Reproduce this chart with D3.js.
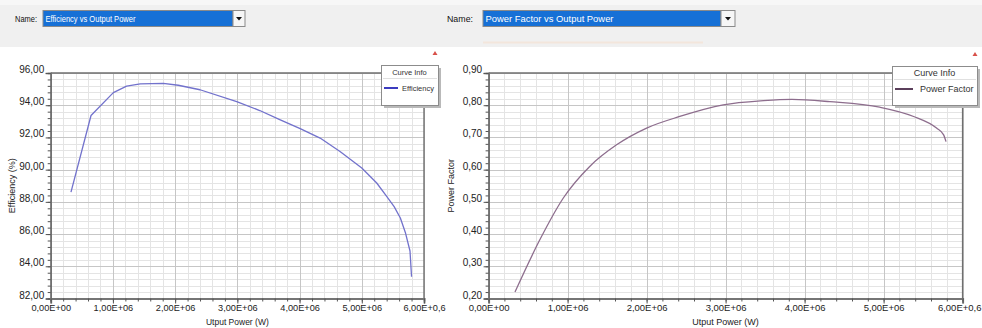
<!DOCTYPE html>
<html><head><meta charset="utf-8">
<script src="https://cdn.jsdelivr.net/npm/d3@7"></script>
<style>
html,body{margin:0;padding:0;background:#fff;overflow:hidden}
svg{display:block;font-family:"Liberation Sans",Arial,sans-serif}
</style></head><body>
<svg id="c" width="982" height="328"></svg>
<script>
// ---- data ----
const xTickValues = [0, 1e6, 2e6, 3e6, 4e6, 5e6, 6e6];
const xTickLabels = ["0,00E+00","1,00E+06","2,00E+06","3,00E+06","4,00E+06","5,00E+06","6,00E+0,6"];
const effTickValues = [82, 84, 86, 88, 90, 92, 94, 96];
const effTickLabels = ["82,00","84,00","86,00","88,00","90,00","92,00","94,00","96,00"];
const pfTickValues = [0.2, 0.3, 0.4, 0.5, 0.6, 0.7, 0.8, 0.9];
const pfTickLabels = ["0,20","0,30","0,40","0,50","0,60","0,70","0,80","0,90"];
const effPower = [0.326e6,0.648e6,1.007e6,1.22e6,1.44e6,1.81e6,2.05e6,2.4e6,2.99e6,3.36e6,3.69e6,4.01e6,4.33e6,4.65e6,5.0e6,5.24e6,5.40e6,5.52e6,5.62e6,5.70e6,5.775e6,5.80e6];
const effValues = [88.6,93.36,94.78,95.18,95.32,95.36,95.24,94.96,94.22,93.67,93.09,92.55,91.96,91.13,90.1,89.17,88.34,87.7,87.0,86.1,84.95,83.35];
const pfPower = [0.334e6,0.65e6,0.946e6,1.28e6,1.62e6,2.0e6,2.42e6,2.97e6,3.48e6,3.84e6,4.32e6,4.95e6,5.38e6,5.67e6,5.76e6,5.79e6];
const pfValues = [0.220,0.383,0.512,0.610,0.677,0.729,0.765,0.801,0.814,0.818,0.811,0.794,0.765,0.729,0.708,0.687];

const svg = d3.select("#c");
// header band
svg.append("rect").attr("x",0).attr("y",0).attr("width",982).attr("height",47).attr("fill","#f0f0f0");
svg.append("rect").attr("x",0).attr("y",0).attr("width",982).attr("height",5).attr("fill","#f7f7f7");

function header(o){
  svg.append("text").attr("x",o.nameX).attr("y",21.5).attr("font-size",9).attr("fill","#111")
    .attr("textLength",o.nameW).attr("lengthAdjust","spacingAndGlyphs").text("Name:");
  svg.append("rect").attr("x",o.boxX).attr("y",10.5).attr("width",o.boxW).attr("height",16)
    .attr("fill","#1670d6").attr("stroke","#8a8a8a").attr("stroke-width",1);
  svg.append("text").attr("x",o.boxX+2.5).attr("y",21.5).attr("font-size",9).attr("fill","#fff")
    .attr("textLength",o.titleW).attr("lengthAdjust","spacingAndGlyphs").text(o.title);
  const bx=o.boxX+o.boxW;
  svg.append("rect").attr("x",bx).attr("y",10.5).attr("width",o.btnW).attr("height",16)
    .attr("fill","#f6f6f6").attr("stroke","#8a8a8a");
  const cx=bx+o.btnW/2;
  svg.append("path").attr("d",`M${cx-3},17 L${cx+3},17 L${cx},20.5 Z`).attr("fill","#111");
  if(o.pale){
    svg.append("line").attr("x1",o.boxX).attr("x2",o.boxX+220).attr("y1",42.5).attr("y2",42.5)
      .attr("stroke","#f3e6dc").attr("stroke-width",2);
  }
}
header({nameX:15,nameW:22,boxX:43,boxW:190,btnW:12,titleW:90,title:"Efficiency vs Output Power"});
header({nameX:447,nameW:26,boxX:483,boxW:238,btnW:14,titleW:128,title:"Power Factor vs Output Power",pale:true});

function panel(o){
  const g = svg.append("g");
  const x = d3.scaleLinear().domain([0,6e6]).range([o.x0,o.x1]);
  const y = d3.scaleLinear().domain(o.yDomain).range([o.yb,o.yt]);
  const xMinor = d3.range(0,6e6+1,0.2e6);
  const yMinor = d3.range(0,36).map(i=>o.yDomain[0]+i*o.yMinorStep).filter(v=>v<=o.yDomain[1]+1e-9);
  // grid
  g.append("g").selectAll("line").data(xMinor).join("line")
    .attr("x1",d=>Math.round(x(d))+0.5).attr("x2",d=>Math.round(x(d))+0.5)
    .attr("y1",o.yt).attr("y2",o.yb).attr("stroke","#e4e4e4");
  g.append("g").selectAll("line").data(yMinor).join("line")
    .attr("y1",d=>Math.round(y(d))+0.5).attr("y2",d=>Math.round(y(d))+0.5)
    .attr("x1",o.x0).attr("x2",o.x1).attr("stroke","#e4e4e4");
  g.append("g").selectAll("line").data(xTickValues).join("line")
    .attr("x1",d=>Math.round(x(d))+0.5).attr("x2",d=>Math.round(x(d))+0.5)
    .attr("y1",o.yt).attr("y2",o.yb).attr("stroke","#c6c6c6");
  g.append("g").selectAll("line").data(o.yTicks).join("line")
    .attr("y1",d=>Math.round(y(d))+0.5).attr("y2",d=>Math.round(y(d))+0.5)
    .attr("x1",o.x0).attr("x2",o.x1).attr("stroke","#c6c6c6");
  // frame
  g.append("line").attr("x1",o.x0).attr("x2",o.x1).attr("y1",o.yt).attr("y2",o.yt).attr("stroke","#6f6f6f").attr("stroke-width",1.6);
  g.append("line").attr("x1",o.x1).attr("x2",o.x1).attr("y1",o.yt).attr("y2",o.yb).attr("stroke","#6f6f6f").attr("stroke-width",1.4);
  // curve
  const pts = o.px.map((p,i)=>[p,o.py[i]]);
  g.append("path").datum(pts)
    .attr("d",d3.line().x(d=>x(d[0])).y(d=>y(d[1])).curve(o.curve))
    .attr("fill","none").attr("stroke",o.color).attr("stroke-width",1.3).attr("stroke-linejoin","round");
  // axes
  const ya = g.append("g").attr("transform",`translate(${o.x0},0)`)
    .call(d3.axisLeft(y).tickValues(o.yTicks).tickFormat((d,i)=>o.yLabels[i]).tickSize(5).tickPadding(1.5));
  const yam = g.append("g").attr("transform",`translate(${o.x0},0)`)
    .call(d3.axisLeft(y).tickValues(yMinor).tickFormat("").tickSize(3));
  const xa = g.append("g").attr("transform",`translate(0,${o.yb})`)
    .call(d3.axisBottom(x).tickValues(xTickValues).tickFormat((d,i)=>xTickLabels[i]).tickSize(5).tickPadding(1));
  const xam = g.append("g").attr("transform",`translate(0,${o.yb})`)
    .call(d3.axisBottom(x).tickValues(xMinor).tickFormat("").tickSize(3));
  [ya,yam,xa,xam].forEach(a=>{
    a.select(".domain").attr("stroke","#707070").attr("stroke-width",1.6);
    a.selectAll(".tick line").attr("stroke","#555");
    a.selectAll("text").attr("fill","#222").attr("font-family","Liberation Sans, Arial, sans-serif");
  });
  ya.selectAll("text").attr("font-size",o.yFont).attr("dy","-0.05em");
  xa.selectAll("text").attr("font-size",o.xFont);
  if(o.lastEnd){
    xa.selectAll(".tick").filter(d=>d===6e6).select("text")
      .attr("text-anchor","end").attr("x",981-x(6e6));
  }
  xa.select(".domain").attr("stroke","#858585").attr("stroke-width",2);
  // axis titles
  g.append("text").attr("transform",`translate(${o.yTitleX},${(o.yt+o.yb)/2}) rotate(-90)`)
    .attr("text-anchor","middle").attr("font-size",9).attr("fill","#222").text(o.yTitle);
  g.append("text").attr("x",(o.x0+o.x1)/2).attr("y",324.5).attr("text-anchor","middle")
    .attr("font-size",o.xTitleFont).attr("fill","#222").text("Utput Power (W)");
  // red marker
  g.append("path").attr("d",`M${o.triX-2.5},${o.triY+2} L${o.triX+2.5},${o.triY+2} L${o.triX},${o.triY-2} Z`).attr("fill","#d8504a");
  // legend
  const L=o.leg;
  g.append("rect").attr("x",L.x+3).attr("y",L.y+3).attr("width",L.w).attr("height",L.h).attr("fill","#b9b9b9");
  g.append("rect").attr("x",L.x+0.5).attr("y",L.y+0.5).attr("width",L.w).attr("height",L.h).attr("fill","#fff").attr("stroke","#8c8c8c");
  g.append("text").attr("x",L.x+L.w/2).attr("y",L.y+10).attr("text-anchor","middle").attr("font-size",L.font).attr("fill","#333").text("Curve Info");
  g.append("line").attr("x1",L.x+2).attr("x2",L.x+L.w-1).attr("y1",L.y+13.5).attr("y2",L.y+13.5).attr("stroke","#e0e0e0");
  g.append("line").attr("x1",L.x+3).attr("x2",L.x+3+L.lw).attr("y1",L.y+23).attr("y2",L.y+23).attr("stroke",L.color).attr("stroke-width",2);
  g.append("text").attr("x",L.x+L.tx).attr("y",L.y+26).attr("font-size",L.font).attr("fill","#333").text(o.series);
}

panel({x0:50.7,x1:424,yt:73,yb:298.5,yDomain:[82,96],yTicks:effTickValues,yLabels:effTickLabels,yMinorStep:0.4,
  px:effPower,py:effValues,color:"#7272cc",curve:d3.curveLinear,yFont:10,xFont:9.2,xTitleFont:8.5,yTitle:"Efficiency (%)",yTitleX:14.5,
  triX:435,triY:53,series:"Efficiency",lastEnd:false,
  leg:{x:381,y:65,w:57,h:40,font:7.5,lw:14,tx:21,color:"#3c3cbf"}});
panel({x0:488.6,x1:962.6,yt:73,yb:298.5,yDomain:[0.2,0.9],yTicks:pfTickValues,yLabels:pfTickLabels,yMinorStep:0.02,
  px:pfPower,py:pfValues,color:"#8d6d8d",curve:d3.curveMonotoneX,yFont:10,xFont:9.5,xTitleFont:9,yTitle:"Power Factor",yTitleX:454,
  triX:975,triY:54,series:"Power Factor",lastEnd:true,
  leg:{x:892,y:66,w:85,h:39,font:9,lw:18,tx:28,color:"#5b3f5b"}});
</script></body></html>
